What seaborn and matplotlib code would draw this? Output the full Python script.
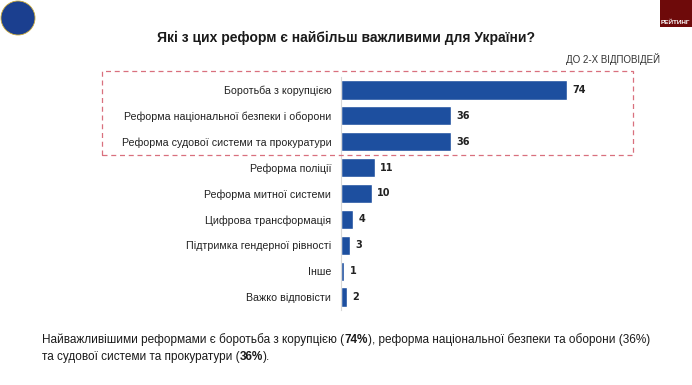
import matplotlib
matplotlib.use('Agg')
import matplotlib.pyplot as plt
import matplotlib.patches as mpatches
import seaborn as sns
import pandas as pd

# data
reforms = ['Боротьба з корупцією',
           'Реформа національної безпеки і оборони',
           'Реформа судової системи та прокуратури',
           'Реформа поліції',
           'Реформа митної системи',
           'Цифрова трансформація',
           'Підтримка гендерної рівності',
           'Інше',
           'Важко відповісти']
shares = [74, 36, 36, 11, 10, 4, 3, 1, 2]

title = 'Які з цих реформ є найбільш важливими для України?'
note = 'ДО 2-Х ВІДПОВІДЕЙ'
summary_1 = [('Найважливішими реформами є боротьба з корупцією (', False), ('74%', True),
             ('), реформа національної безпеки та оборони (36%)', False)]
summary_2 = [('та судової системи та прокуратури (', False), ('36%', True), (').', False)]

df = pd.DataFrame({'reform': reforms, 'share': shares})

sns.set_theme(style='white')
plt.rcParams['font.family'] = ['Liberation Sans', 'DejaVu Sans']

W, H = 692, 385
fig = plt.figure(figsize=(W / 100, H / 100), dpi=100)
fig.patch.set_facecolor('white')

# axes placed so bars start at x=341px
ax = fig.add_axes([341 / W, 1 - 310 / H, 244 / W, 233 / H])
sns.barplot(data=df, x='share', y='reform', color='#1d4f9f', width=0.74,
            saturation=1, ax=ax, orient='h')
ax.set_xlim(0, 80)
ax.set_ylim(len(reforms) - 0.5, -0.5)
ax.set_xlabel('')
ax.set_ylabel('')
ax.set_xticks([])
ax.tick_params(axis='y', length=0, pad=7, labelsize=7.7, labelcolor='#222222')
for s in ['top', 'right', 'bottom']:
    ax.spines[s].set_visible(False)
ax.spines['left'].set_color('#d8d8d8')
ax.spines['left'].set_linewidth(0.8)
ax.set_facecolor('none')

# values in a wider bold face, like the original
for i, v in enumerate(shares):
    ax.annotate(str(v), (v, i), xytext=(4, 0), textcoords='offset points',
                va='center', ha='left', fontsize=7, fontweight='bold', color='#222222',
                family='DejaVu Sans')

# title and note
fig.text(346 / W, 1 - 38 / H, title, ha='center', va='center', fontsize=10,
         fontweight='bold', color='#1a1a1a')
fig.text(660 / W, 1 - 59 / H, note, ha='right', va='center', fontsize=7, color='#333333')

# dashed highlight box
box = mpatches.Rectangle((102 / W, 1 - 155 / H), (633 - 102) / W, (155 - 71) / H,
                         transform=fig.transFigure, fill=False, ls=(0, (4, 3)),
                         lw=0.9, ec='#d9707e')
fig.patches.append(box)

# logo and corner tab
logo = mpatches.Ellipse((18 / W, 1 - 18 / H), 34 / W, 34 / H, transform=fig.transFigure,
                        fc='#1b3f8f', ec='#c9a93a', lw=0.6)
fig.patches.append(logo)
tab = mpatches.Rectangle((660 / W, 1 - 27 / H), 40 / W, 27 / H, transform=fig.transFigure,
                         fc='#6e0a0a', ec='none')
fig.patches.append(tab)
fig.text(661 / W, 1 - 22 / H, 'РЕЙТИНГ', fontsize=4.6, fontweight='bold', color='white',
         va='center', ha='left')

# summary text with bold pieces
renderer = fig.canvas.get_renderer()


def draw_line(parts, x0, y):
    x = x0
    for txt, bold in parts:
        t = fig.text(x / W, 1 - y / H, txt, fontsize=8.5, va='center', ha='left',
                     fontweight='bold' if bold else 'normal', color='#1a1a1a')
        x += t.get_window_extent(renderer).width


draw_line(summary_1, 42, 340)
draw_line(summary_2, 42, 357)

fig.savefig('out.png', dpi=100)
